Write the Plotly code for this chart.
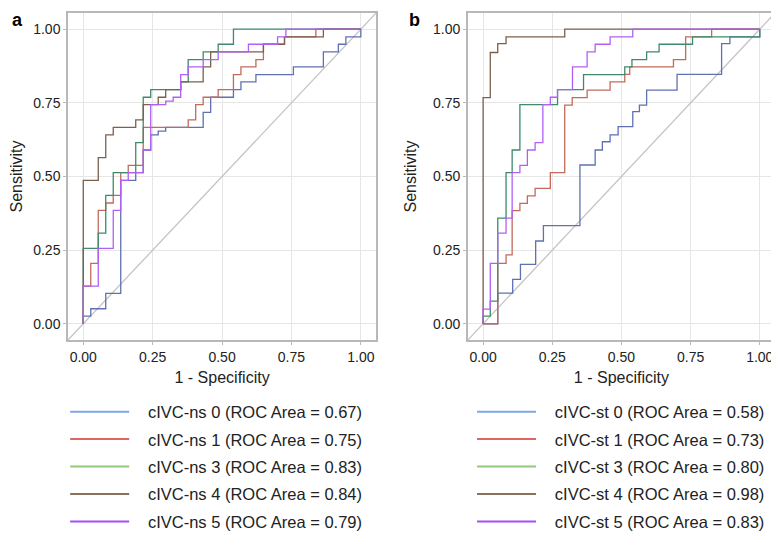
"""cIVC-ns / cIVC-st ROC curves (two panels)"""

import plotly.graph_objects as go
from plotly.subplots import make_subplots

# --- data -----------------------------------------------------------------
groups = ["0", "1", "3", "4", "5"]
auc_ns = ["0.67", "0.75", "0.83", "0.84", "0.79"]
auc_st = ["0.58", "0.73", "0.80", "0.98", "0.83"]

# panel a: cIVC-ns (ROC points, drawn as steps)
ns0_fpr = [0, 0, 0.027, 0.081, 0.135, 0.189, 0.216, 0.243, 0.270, 0.297, 0.432, 0.459, 0.541, 0.568, 0.622, 0.757, 0.865, 0.919, 0.946, 1.0]
ns0_tpr = [0, 0.026, 0.051, 0.103, 0.487, 0.513, 0.590, 0.641, 0.654, 0.667, 0.718, 0.769, 0.795, 0.821, 0.846, 0.872, 0.923, 0.949, 0.974, 1.0]

ns1_fpr = [0, 0, 0.027, 0.054, 0.081, 0.108, 0.135, 0.162, 0.216, 0.378, 0.405, 0.432, 0.486, 0.541, 0.568, 0.622, 0.649, 0.725, 0.838, 1.0]
ns1_tpr = [0, 0.128, 0.205, 0.385, 0.410, 0.436, 0.513, 0.538, 0.667, 0.692, 0.744, 0.769, 0.795, 0.846, 0.872, 0.897, 0.949, 0.974, 1.0, 1.0]

ns3_fpr = [0, 0, 0.054, 0.081, 0.108, 0.189, 0.216, 0.243, 0.351, 0.378, 0.432, 0.486, 0.541, 1.0]
ns3_tpr = [0, 0.256, 0.308, 0.436, 0.513, 0.615, 0.769, 0.795, 0.821, 0.897, 0.923, 0.949, 1.0, 1.0]

ns4_fpr = [0, 0, 0.054, 0.081, 0.108, 0.189, 0.216, 0.270, 0.297, 0.351, 0.432, 0.459, 0.649, 0.725, 0.865, 1.0]
ns4_tpr = [0, 0.487, 0.564, 0.641, 0.667, 0.692, 0.744, 0.769, 0.795, 0.821, 0.872, 0.923, 0.949, 0.974, 1.0, 1.0]

ns5_fpr = [0, 0, 0.054, 0.108, 0.135, 0.162, 0.216, 0.243, 0.297, 0.324, 0.351, 0.378, 0.432, 0.486, 0.595, 0.700, 0.730, 1.0]
ns5_tpr = [0, 0.128, 0.256, 0.385, 0.487, 0.513, 0.590, 0.744, 0.756, 0.769, 0.846, 0.872, 0.897, 0.923, 0.949, 0.974, 1.0, 1.0]

# panel b: cIVC-st
st0_fpr = [0, 0.053, 0.107, 0.135, 0.190, 0.218, 0.350, 0.405, 0.431, 0.459, 0.488, 0.541, 0.565, 0.591, 0.701, 0.862, 0.892, 1.0]
st0_tpr = [0, 0.104, 0.151, 0.202, 0.281, 0.333, 0.539, 0.590, 0.618, 0.641, 0.669, 0.720, 0.742, 0.793, 0.847, 0.951, 0.974, 1.0]

st1_fpr = [0, 0.053, 0.083, 0.105, 0.133, 0.160, 0.188, 0.243, 0.295, 0.322, 0.376, 0.459, 0.512, 0.530, 0.688, 0.732, 0.826, 1.0]
st1_tpr = [0, 0.205, 0.234, 0.384, 0.409, 0.434, 0.460, 0.513, 0.742, 0.768, 0.793, 0.821, 0.847, 0.872, 0.897, 0.974, 1.0, 1.0]

st3_fpr = [0, 0, 0.026, 0.053, 0.083, 0.105, 0.133, 0.269, 0.363, 0.512, 0.538, 0.591, 0.636, 0.757, 1.0]
st3_tpr = [0, 0.026, 0.077, 0.359, 0.513, 0.590, 0.744, 0.795, 0.846, 0.872, 0.897, 0.923, 0.949, 0.974, 1.0]

st4_fpr = [0, 0, 0.026, 0.053, 0.083, 0.295, 1.0]
st4_tpr = [0, 0.768, 0.921, 0.951, 0.974, 1.0, 1.0]

st5_fpr = [0, 0, 0.026, 0.053, 0.083, 0.105, 0.133, 0.160, 0.188, 0.216, 0.243, 0.269, 0.323, 0.376, 0.405, 0.459, 0.541, 1.0]
st5_tpr = [0, 0.050, 0.205, 0.308, 0.359, 0.513, 0.538, 0.590, 0.615, 0.744, 0.769, 0.795, 0.872, 0.923, 0.949, 0.974, 1.0, 1.0]

chance = [-0.1, 1.1]

ticks = [0, 0.25, 0.5, 0.75, 1.0]
tick_text = ["0.00", "0.25", "0.50", "0.75", "1.00"]

# plot line colours (darker) and legend colours (lighter), as in the figure
line_colors = ["#6070b0", "#c46a5a", "#3f8a6c", "#7d5f4e", "#b060f5"]
legend_colors = ["#7ea7e6", "#e06464", "#93c97c", "#8a7259", "#a64ef2"]

FONT = "Liberation Sans, Arial, sans-serif"
NBSP = "\u00a0"

ns_curves = [(ns0_fpr, ns0_tpr), (ns1_fpr, ns1_tpr), (ns3_fpr, ns3_tpr),
             (ns4_fpr, ns4_tpr), (ns5_fpr, ns5_tpr)]
st_curves = [(st0_fpr, st0_tpr), (st1_fpr, st1_tpr), (st3_fpr, st3_tpr),
             (st4_fpr, st4_tpr), (st5_fpr, st5_tpr)]

fig = make_subplots(rows=1, cols=2)

for col, (curves, label, aucs, legend_id) in enumerate(
    [(ns_curves, "cIVC-ns", auc_ns, "legend"), (st_curves, "cIVC-st", auc_st, "legend2")],
    start=1,
):
    # 45° reference line
    fig.add_trace(
        go.Scatter(x=chance, y=chance, mode="lines",
                   line=dict(color="#c4c4c4", width=1.3),
                   showlegend=False, hoverinfo="skip"),
        row=1, col=col,
    )
    for i, (fpr, tpr) in enumerate(curves):
        fig.add_trace(
            go.Scatter(x=fpr, y=tpr, mode="lines", line_shape="hv",
                       line=dict(color=line_colors[i], width=1.3),
                       showlegend=False),
            row=1, col=col,
        )
    # legend entries
    for i, g in enumerate(groups):
        fig.add_trace(
            go.Scatter(x=[None], y=[None], mode="lines",
                       line=dict(color=legend_colors[i], width=2),
                       name=f"{NBSP * 3}{label} {g} (ROC Area = {aucs[i]})",
                       legendgroup=f"{label}{g}", legend=legend_id),
            row=1, col=col,
        )

axis_common = dict(
    range=[-0.055, 1.055],
    tickvals=ticks,
    ticktext=tick_text,
    showgrid=True,
    gridcolor="#e6e6e6",
    gridwidth=1,
    zeroline=False,
    showline=True,
    mirror=True,
    linecolor="#b8b8b8",
    linewidth=1.5,
    ticks="outside",
    ticklen=3,
    tickcolor="#b8b8b8",
    tickfont=dict(size=14, color="#222222", family=FONT),
)

fig.update_xaxes(**axis_common, title=dict(text="1 - Specificity", standoff=8,
                                           font=dict(size=16, color="#222222", family=FONT)))
fig.update_yaxes(**axis_common, title=dict(text="Sensitivity", standoff=12,
                                           font=dict(size=16, color="#222222", family=FONT)))

legend_common = dict(
    xref="paper",
    yref="container",
    yanchor="top",
    y=0.264,
    font=dict(size=16.5, color="#222222", family=FONT),
    itemwidth=59,
    tracegroupgap=3,
    bgcolor="rgba(0,0,0,0)",
)

fig.update_layout(
    width=771,
    height=525,
    plot_bgcolor="white",
    paper_bgcolor="white",
    margin=dict(l=53, r=2, t=5, b=193),
    xaxis=dict(domain=[0, 0.4358]),
    xaxis2=dict(domain=[0.5656, 1.0]),
    legend=dict(x=-0.004, xanchor="left", **legend_common),
    legend2=dict(x=0.993, xanchor="right", **legend_common),
    annotations=[
        dict(text="<b>a</b>", xref="paper", yref="paper", x=-0.071, y=1.015,
             xanchor="center", yanchor="top", showarrow=False,
             font=dict(size=18, color="black", family=FONT)),
        dict(text="<b>b</b>", xref="paper", yref="paper", x=0.49, y=1.015,
             xanchor="center", yanchor="top", showarrow=False,
             font=dict(size=18, color="black", family=FONT)),
    ],
)

fig.write_html("out.html")
